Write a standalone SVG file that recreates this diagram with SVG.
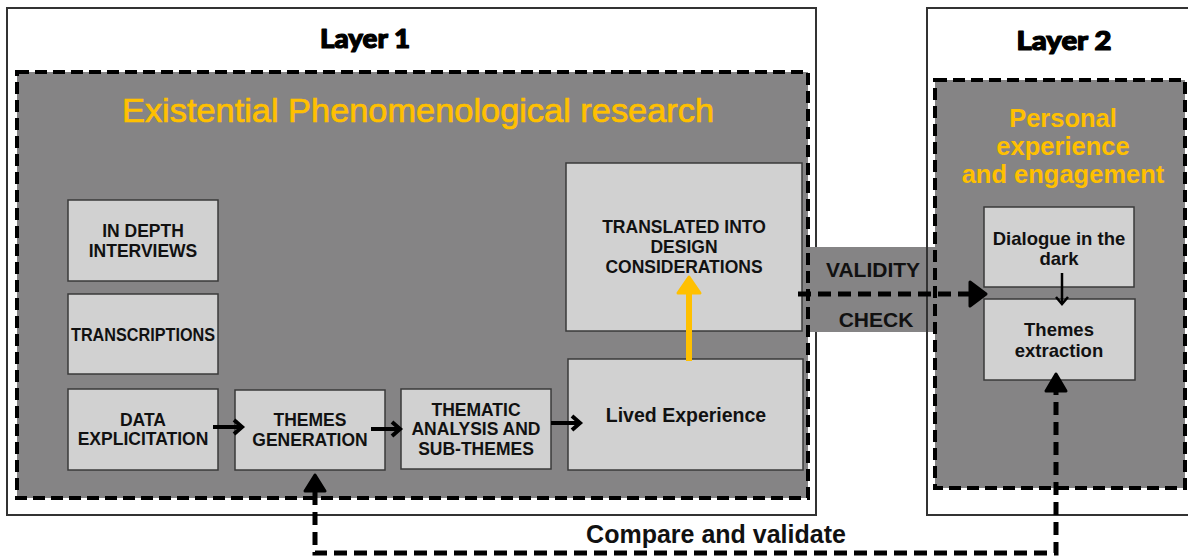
<svg xmlns="http://www.w3.org/2000/svg" width="1188" height="559" viewBox="0 0 1188 559">
<style>
.outer{fill:#ffffff;stroke:#333333;stroke-width:2}
.zone{fill:#858485;stroke:#000;stroke-width:4;stroke-dasharray:12 6}
.box{fill:#d1d1d1;stroke:#3a3a3a;stroke-width:1.5}
.t{font-family:"Liberation Sans",Arial,sans-serif;font-weight:bold;fill:#111;text-anchor:middle}
.n{font-size:17.5px}
.layer{font-family:Lato,"DejaVu Sans",sans-serif;font-weight:900;font-size:26px;fill:#000;stroke:#000;stroke-width:1.2;stroke-linejoin:round;text-anchor:middle}
.y{fill:#ffc000}
.ln{fill:none;stroke:#000;stroke-width:4}
.dash{fill:none;stroke:#000;stroke-width:5;stroke-dasharray:13 7}
.head{fill:#000;stroke:#000;stroke-width:3;stroke-linejoin:round}
</style>
<g id="layer1">
<rect class="outer" x="7" y="8" width="809" height="507"/>
<text class="layer" x="365" y="48" textLength="90" lengthAdjust="spacingAndGlyphs">Layer 1</text>
</g>
<g id="validity-band">
<rect x="805" y="247" width="130" height="85" fill="#858485"/>
<text class="t" x="873" y="276.5" font-size="21" fill="#111">VALIDITY</text>
<text class="t" x="876" y="326.5" font-size="21" fill="#111">CHECK</text>
</g>
<g id="zone1">
<rect class="zone" x="17" y="72" width="791" height="426"/>
<text x="418" y="122" font-family="Liberation Sans,Arial,sans-serif" font-size="34" fill="#ffc000" stroke="#ffc000" stroke-width="0.7" text-anchor="middle" textLength="592" lengthAdjust="spacingAndGlyphs">Existential Phenomenological research</text>
</g>
<g id="layer2">
<rect x="927" y="8" width="270" height="507" fill="none" stroke="#333333" stroke-width="2"/>
<text class="layer" x="1064" y="50" textLength="95" lengthAdjust="spacingAndGlyphs">Layer 2</text>
</g>
<g id="zone2">
<rect class="zone" x="935" y="80" width="250" height="408"/>
<g class="t y" font-size="25.5">
<text x="1063" y="127" fill="#ffc000">Personal</text>
<text x="1063" y="155" fill="#ffc000">experience</text>
<text x="1063" y="183" fill="#ffc000">and engagement</text>
</g>
</g>
<g id="interviews">
<rect class="box" x="68" y="200" width="150" height="81"/>
<text class="t n" x="143" y="237">IN DEPTH</text>
<text class="t n" x="143" y="257">INTERVIEWS</text>
</g>
<g id="transcriptions">
<rect class="box" x="68" y="294" width="150" height="80"/>
<text class="t n" x="143" y="341" textLength="144" lengthAdjust="spacingAndGlyphs">TRANSCRIPTIONS</text>
</g>
<g id="explicitation">
<rect class="box" x="68" y="389" width="150" height="81"/>
<text class="t n" x="143" y="426">DATA</text>
<text class="t n" x="143" y="445">EXPLICITATION</text>
</g>
<g id="themes-generation">
<rect class="box" x="235" y="390" width="150" height="80"/>
<text class="t n" x="310" y="426">THEMES</text>
<text class="t n" x="310" y="446">GENERATION</text>
</g>
<g id="thematic-analysis">
<rect class="box" x="401" y="389" width="150" height="80"/>
<text class="t n" x="476" y="416">THEMATIC</text>
<text class="t n" x="476" y="435">ANALYSIS AND</text>
<text class="t n" x="476" y="455">SUB-THEMES</text>
</g>
<g id="lived-experience">
<rect class="box" x="568" y="359" width="235" height="111"/>
<text class="t" x="686" y="422" font-size="19.5">Lived Experience</text>
</g>
<g id="design-considerations">
<rect class="box" x="566" y="163" width="236" height="168"/>
<text class="t n" x="684" y="233">TRANSLATED INTO</text>
<text class="t n" x="684" y="253">DESIGN</text>
<text class="t n" x="684" y="273">CONSIDERATIONS</text>
</g>
<g id="dialogue">
<rect class="box" x="984" y="207" width="150" height="80"/>
<text class="t" x="1059" y="244.5" font-size="18.5">Dialogue in the</text>
<text class="t" x="1059" y="264.5" font-size="18.5">dark</text>
</g>
<g id="themes-extraction">
<rect class="box" x="984" y="299" width="151" height="81"/>
<text class="t" x="1059" y="335.5" font-size="18.5">Themes</text>
<text class="t" x="1059" y="356.5" font-size="18.5">extraction</text>
</g>
<g id="connectors">
<line class="ln" x1="213" y1="427" x2="240" y2="427"/>
<polyline class="ln" points="234,420 242,427 234,434"/>
<line class="ln" x1="371" y1="429" x2="398" y2="429"/>
<polyline class="ln" points="392,422 400,429 392,436"/>
<line class="ln" x1="551" y1="423" x2="578" y2="423"/>
<polyline class="ln" points="572,416 580,423 572,430"/>
<line x1="1062" y1="273" x2="1062" y2="303" stroke="#000" stroke-width="2.5"/>
<polyline points="1056,297 1062,304 1068,297" fill="none" stroke="#000" stroke-width="2.5"/>
<line x1="689" y1="361" x2="689" y2="292" stroke="#ffc000" stroke-width="6"/>
<polygon points="678,293 689,277 700,293" fill="#ffc000" stroke="#ffc000" stroke-width="3" stroke-linejoin="round"/>
<line class="dash" x1="798" y1="294" x2="970" y2="294"/>
<polygon class="head" points="970,282 986,294 970,306"/>
<path class="dash" d="M315,492 V553 H1056 V392"/>
<polygon class="head" points="305,491 315,475 325,491"/>
<polygon class="head" points="1046,391 1056,374 1066,391"/>
<text class="t" x="716" y="543" font-size="25">Compare and validate</text>
</g>
</svg>
